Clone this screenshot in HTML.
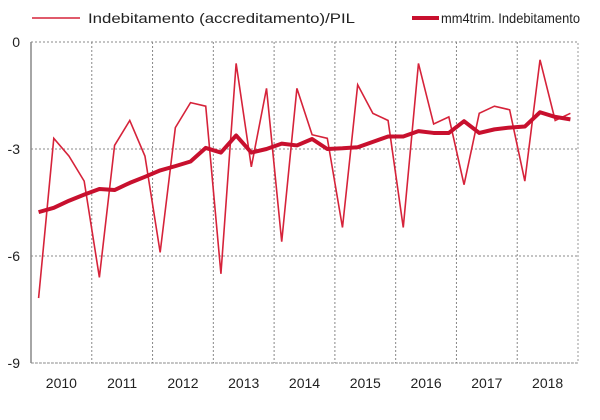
<!DOCTYPE html>
<html><head><meta charset="utf-8"><style>
html,body{margin:0;padding:0;background:#fff;}
svg{display:block;font-family:"Liberation Sans",Arial,sans-serif;}
</style></head><body>
<svg id="chart" width="600" height="420" viewBox="0 0 600 420">
<g>
<line x1="32" y1="18" x2="80" y2="18" stroke="#d6233a" stroke-width="1.5"/>
<text x="88" y="23" font-size="14" fill="#222" textLength="267" lengthAdjust="spacingAndGlyphs">Indebitamento (accreditamento)/PIL</text>
<line x1="412" y1="18" x2="439" y2="18" stroke="#c8102e" stroke-width="4"/>
<text x="441" y="23" font-size="14" fill="#222" textLength="139" lengthAdjust="spacingAndGlyphs">mm4trim. Indebitamento</text>
</g>
<g id="grid"></g><g id="axes"></g><g id="series"></g>
</svg>
<script>
const years=["2010","2011","2012","2013","2014","2015","2016","2017","2018"];
const yTicks=[0,-3,-6,-9];
const quarterly=[-7.18,-2.7,-3.2,-3.9,-6.6,-2.9,-2.2,-3.2,-5.9,-2.4,-1.7,-1.8,-6.5,-0.6,-3.5,-1.3,-5.6,-1.3,-2.6,-2.7,-5.2,-1.2,-2.0,-2.2,-5.2,-0.6,-2.3,-2.1,-4.0,-2.0,-1.8,-1.9,-3.9,-0.5,-2.2,-2.0];
const movingAvg=[-4.77,-4.65,-4.45,-4.28,-4.12,-4.15,-3.95,-3.78,-3.6,-3.48,-3.35,-2.97,-3.1,-2.62,-3.1,-3.0,-2.85,-2.9,-2.72,-3.0,-2.98,-2.95,-2.8,-2.65,-2.65,-2.5,-2.55,-2.55,-2.22,-2.55,-2.45,-2.4,-2.37,-1.97,-2.1,-2.17];
const NS="http://www.w3.org/2000/svg";
const L=31,R=578,T=42,B=363,yMin=-9,yMax=0;
const nQ=years.length*4;
const xScale=i=>L+(R-L)*(i+0.5)/nQ;
const yScale=v=>T+(yMax-v)/(yMax-yMin)*(B-T);
function mk(t,a,p){const e=document.createElementNS(NS,t);for(const k in a)e.setAttribute(k,a[k]);p.appendChild(e);return e;}
const grid=document.getElementById('grid'),axes=document.getElementById('axes'),series=document.getElementById('series');
const frame=mk('rect',{x:L,y:T,width:R-L,height:B-T,fill:'none',stroke:'#999','stroke-width':1,'stroke-dasharray':'2,2'},grid);


yTicks.forEach(v=>{
 const y=yScale(v);
 const g=mk('line',{x1:L,x2:R,y1:y,y2:y,stroke:'#888','stroke-width':1,'stroke-dasharray':'2,2'},grid);
 
 
 const t=mk('text',{x:20,y:y+5,'text-anchor':'end','font-size':14,fill:'#222'},axes);
 t.textContent=v;
 
 
});
years.forEach((yr,i)=>{
 const x0=L+(R-L)*i/years.length, x1=L+(R-L)*(i+1)/years.length;
 if(i>0){const g=mk('line',{x1:x0,x2:x0,y1:T,y2:B,stroke:'#888','stroke-width':1,'stroke-dasharray':'2,2'},grid);
 
 }
 const t=mk('text',{x:(x0+x1)/2,y:B+25,'text-anchor':'middle','font-size':14,fill:'#222'},axes);
 t.textContent=yr;
 
 
});
const ax=mk('line',{x1:L,x2:L,y1:T,y2:B,stroke:'#888','stroke-width':1.5},axes);


const p1=mk('polyline',{points:quarterly.map((v,i)=>xScale(i)+','+yScale(v)).join(' '),fill:'none',stroke:'#d6233a','stroke-width':1.6,'stroke-linejoin':'miter'},series);


const p2=mk('polyline',{points:movingAvg.map((v,i)=>xScale(i)+','+yScale(v)).join(' '),fill:'none',stroke:'#c8102e','stroke-width':4,'stroke-linejoin':'round'},series);


</script>
</body></html>
